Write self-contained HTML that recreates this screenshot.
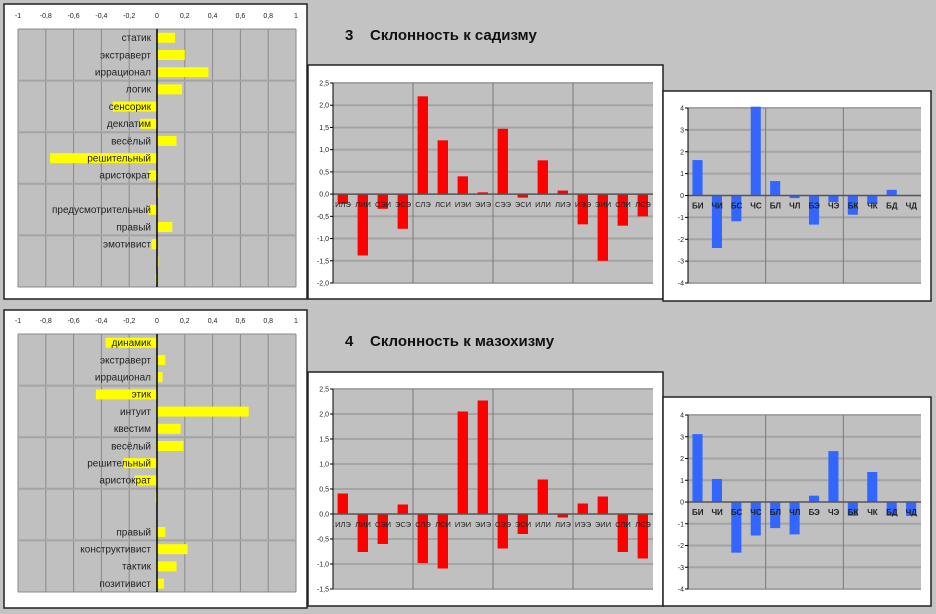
<!DOCTYPE html>
<html><head><meta charset="utf-8"><style>
html,body{margin:0;padding:0;background:#c3c3c3;}
svg{display:block;font-family:"Liberation Sans",Arial,sans-serif;}
</style></head><body>
<svg id="s" width="936" height="614" viewBox="0 0 936 614" xmlns="http://www.w3.org/2000/svg">
<rect x="0" y="0" width="936" height="614" fill="#c3c3c3"/>
<text x="345" y="40" font-size="15" font-weight="bold" fill="#111">3&#160;&#160;&#160;&#160;Склонность к садизму</text>
<text x="345" y="346" font-size="15" font-weight="bold" fill="#111">4&#160;&#160;&#160;&#160;Склонность к мазохизму</text>
</svg>
<script>
// ---- data ----
const traitsTop = ["статик","экстраверт","иррационал","логик","сенсорик","деклатим","весёлый","решительный","аристократ","","предусмотрительный","правый","эмотивист","",""];
const traitValsTop = [0.13,0.2,0.37,0.18,-0.32,-0.12,0.14,-0.77,-0.06,0.01,-0.06,0.11,-0.04,0.01,-0.01];
const traitsBot = ["динамик","экстраверт","иррационал","этик","интуит","квестим","весёлый","решительный","аристократ","","","правый","конструктивист","тактик","позитивист"];
const traitValsBot = [-0.37,0.06,0.04,-0.44,0.66,0.17,0.19,-0.24,-0.16,-0.01,0,0.06,0.22,0.14,0.05];
const traitTicks = [-1,-0.8,-0.6,-0.4,-0.2,0,0.2,0.4,0.6,0.8,1];
const typeCats = ["ИЛЭ","ЛИИ","СЭИ","ЭСЭ","СЛЭ","ЛСИ","ИЭИ","ЭИЭ","СЭЭ","ЭСИ","ИЛИ","ЛИЭ","ИЭЭ","ЭИИ","СЛИ","ЛСЭ"];
const typeValsTop = [-0.22,-1.38,-0.33,-0.78,2.2,1.21,0.4,0.04,1.47,-0.08,0.76,0.08,-0.68,-1.5,-0.71,-0.5];
const typeValsBot = [0.41,-0.76,-0.6,0.19,-0.98,-1.09,2.05,2.27,-0.69,-0.4,0.69,-0.07,0.21,0.35,-0.76,-0.89];
const typeTicksTop = [-2,-1.5,-1,-0.5,0,0.5,1,1.5,2,2.5];
const typeTicksBot = [-1.5,-1,-0.5,0,0.5,1,1.5,2,2.5];
const funcCats = ["БИ","ЧИ","БС","ЧС","БЛ","ЧЛ","БЭ","ЧЭ","БК","ЧК","БД","ЧД"];
const funcValsTop = [1.62,-2.4,-1.18,4.06,0.66,-0.12,-1.33,-0.3,-0.88,-0.38,0.26,0];
const funcValsBot = [3.12,1.06,-2.33,-1.54,-1.2,-1.49,0.29,2.34,-0.64,1.38,-0.64,-0.64];
const funcTicks = [-4,-3,-2,-1,0,1,2,3,4];

const S=document.getElementById('s');
const NS="http://www.w3.org/2000/svg";
function mk(tag,a,parent){const e=document.createElementNS(NS,tag);for(const k in a)e.setAttribute(k,a[k]);(parent||S).appendChild(e);return e;}
function fmt(v){return (Math.round(v*10)/10).toFixed(1).replace('.',',');}

function panel(x,y,w,h,name){
  const r=mk('rect',{x:x,y:y,width:w,height:h,fill:'#fff',stroke:'#222','stroke-width':1.5});
  
  
}

function hbar(px,py,pw,ph,cats,vals,ticks,name){
  const g=mk('g',{});
  
  
  const xs=v=>px+(v-(-1))/2*pw;
  mk('rect',{x:px,y:py,width:pw,height:ph,fill:'#c0c0c0'},g);
  ticks.forEach(t=>{
    if(t!==0) mk('line',{x1:xs(t),x2:xs(t),y1:py,y2:py+ph,stroke:'#8a8a8a','stroke-width':1},g);
    const tl=mk('text',{x:xs(t),y:py-11,'font-size':7,'text-anchor':'middle',fill:'#222'},g);
    tl.textContent=(t===0?'0':String(t).replace('.',','));
    
    
  });
  const rh=ph/cats.length;
  for(let i=3;i<cats.length;i+=3) mk('line',{x1:px,x2:px+pw,y1:py+i*rh,y2:py+i*rh,stroke:'#a4a4a4','stroke-width':2},g);
  mk('line',{x1:px,x2:px+pw,y1:py,y2:py,stroke:'#888','stroke-width':1},g);
  mk('line',{x1:px,x2:px+pw,y1:py+ph,y2:py+ph,stroke:'#888','stroke-width':1},g);
  const z=xs(0);
  vals.forEach((v,i)=>{
    const x1=Math.min(xs(v),z), w=Math.abs(xs(v)-z);
    const b=mk('rect',{x:x1,y:py+i*rh+rh*0.22,width:Math.max(w,0.8),height:rh*0.58,fill:'#ffff00'},g);
    
    
  });
  cats.forEach((c,i)=>{
    if(!c) return;
    const t=mk('text',{x:z-6,y:py+i*rh+rh/2+3.5,'font-size':10,'text-anchor':'end',fill:'#222'},g);
    t.textContent=c;
    
    
  });
  mk('line',{x1:z,x2:z,y1:py,y2:py+ph,stroke:'#000','stroke-width':1.5},g);
}

function vbar(px,py,pw,ph,cats,vals,ticks,groups,color,name,catFont,dec,bold){
  const g=mk('g',{});
  
  
  const mn=ticks[0],mx=ticks[ticks.length-1];
  const ys=v=>py+(mx-v)/(mx-mn)*ph;
  mk('rect',{x:px,y:py,width:pw,height:ph,fill:'#c0c0c0'},g);
  ticks.forEach(t=>{
    if(t!==0) mk('line',{x1:px,x2:px+pw,y1:ys(t),y2:ys(t),stroke:'#a4a4a4','stroke-width':2},g);
    mk('line',{x1:px-3,x2:px,y1:ys(t),y2:ys(t),stroke:'#000','stroke-width':1},g);
    const tl=mk('text',{x:px-4,y:ys(t)+2.5,'font-size':7,'text-anchor':'end',fill:'#222'},g);
    tl.textContent=dec?fmt(t):String(t);
    
    
  });
  const cw=pw/cats.length;
  for(let i=groups;i<cats.length;i+=groups) mk('line',{x1:px+i*cw,x2:px+i*cw,y1:py,y2:py+ph,stroke:'#777','stroke-width':1},g);
  const z=ys(0);
  vals.forEach((v,i)=>{
    const y1=Math.min(ys(v),z),h=Math.abs(ys(v)-z);
    const b=mk('rect',{x:px+i*cw+cw*0.23,y:y1,width:cw*0.52,height:h,fill:color},g);
    
    
  });
  mk('line',{x1:px,x2:px+pw,y1:z,y2:z,stroke:'#555','stroke-width':1.5},g);
  mk('line',{x1:px,x2:px,y1:py,y2:py+ph,stroke:'#000','stroke-width':1},g);
  cats.forEach((c,i)=>{
    const t=mk('text',{x:px+i*cw+cw/2,y:z+13,'font-size':catFont,'font-weight':bold?'bold':'normal','text-anchor':'middle',fill:'#222'},g);
    t.textContent=c;
    
    
  });
}

panel(4,4,303,295,'traits-panel-top');
hbar(18,29,278,258,traitsTop,traitValsTop,traitTicks,'traits-chart-top');
panel(4,310,303,298,'traits-panel-bottom');
hbar(18,334,278,258,traitsBot,traitValsBot,traitTicks,'traits-chart-bottom');

panel(308,65,355,234,'types-panel-top');
vbar(333,83,320,200,typeCats,typeValsTop,typeTicksTop,4,'#ff0000','types-chart-top',7.5,true,false);
panel(308,372,355,234,'types-panel-bottom');
vbar(333,389,320,200,typeCats,typeValsBot,typeTicksBot,4,'#ff0000','types-chart-bottom',7.5,true,false);

panel(663,91,268,210,'functions-panel-top');
vbar(688,108,233,175,funcCats,funcValsTop,funcTicks,4,'#3366ff','functions-chart-top',8,false,true);
panel(663,397,268,209,'functions-panel-bottom');
vbar(688,415,233,174,funcCats,funcValsBot,funcTicks,4,'#3366ff','functions-chart-bottom',8,false,true);
</script>
</body></html>
